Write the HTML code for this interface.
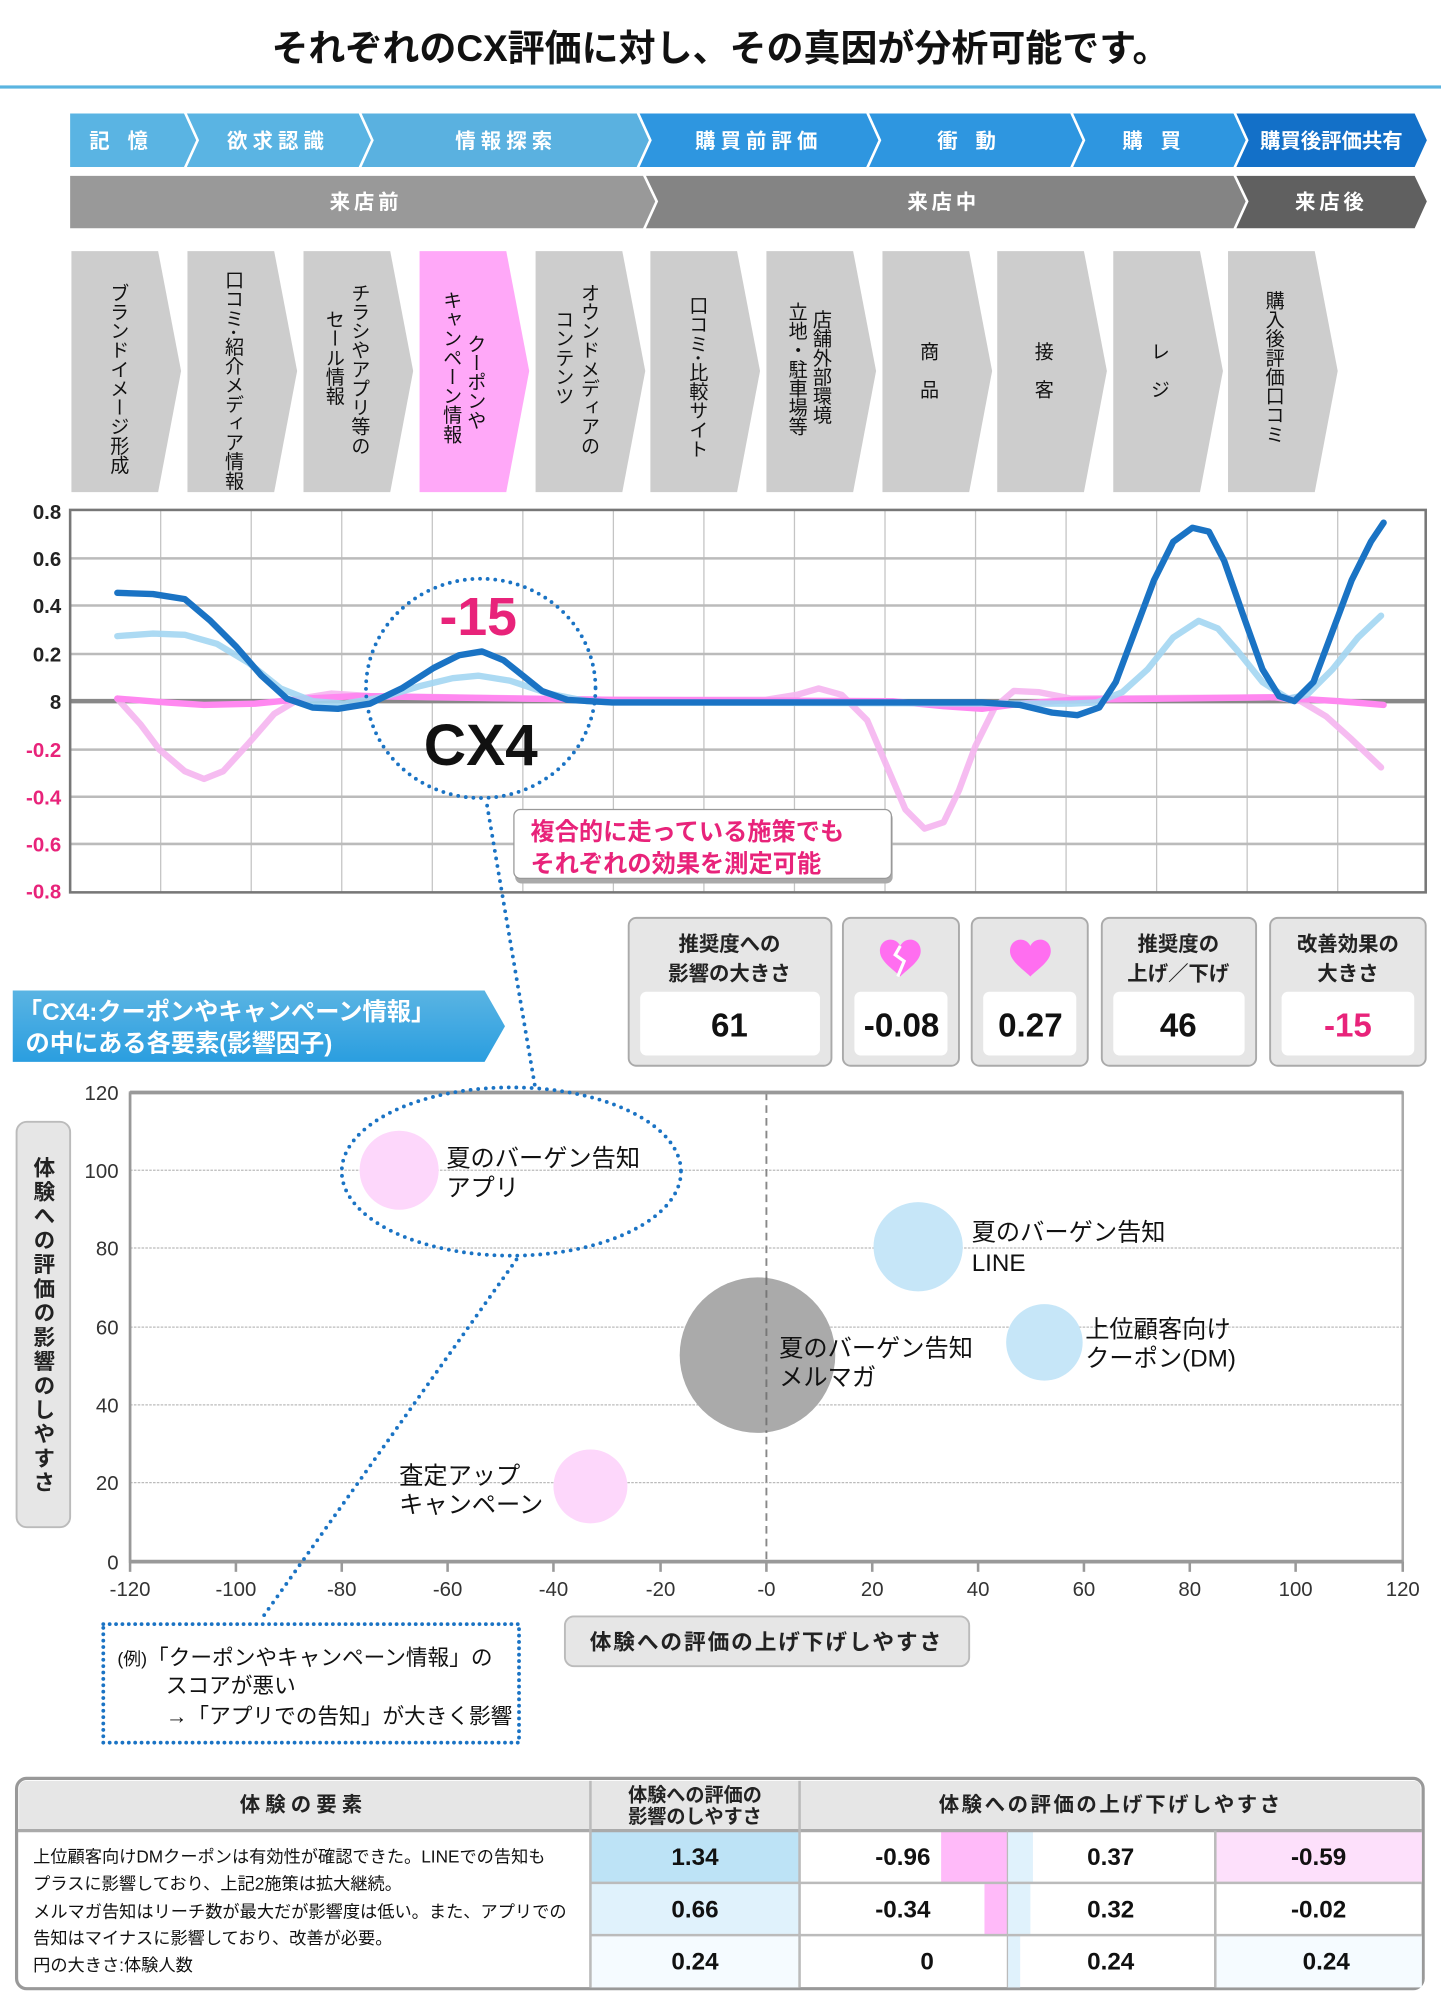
<!DOCTYPE html>
<html><head><meta charset="utf-8"><style>
html,body{margin:0;padding:0;background:#fff;}
svg{display:block;font-family:"Liberation Sans","Noto Sans CJK JP",sans-serif;}
.v{writing-mode:vertical-rl;font-size:15px;fill:#111;}
</style></head><body>
<svg width="1441" height="2004" viewBox="0 0 1130 1572" preserveAspectRatio="none" xmlns="http://www.w3.org/2000/svg">
<rect width="1130" height="1572" fill="#fff"/>
<text x="565" y="48" text-anchor="middle" font-size="29" font-weight="bold" fill="#111">それぞれのCX評価に対し、その真因が分析可能です。</text>
<rect x="0" y="67" width="1130" height="2.5" fill="#5ab4e0"/>

<!-- phase row 1 -->
<g stroke="#fff" stroke-width="2">
<polygon points="54,88 145,88 155,110 145,132 54,132" fill="#5ab4e3"/>
<polygon points="145,88 282,88 292,110 282,132 145,132 155,110" fill="#5ab4e3"/>
<polygon points="282,88 500,88 510,110 500,132 282,132 292,110" fill="#5ab1e0"/>
<polygon points="500,88 680,88 690,110 680,132 500,132 510,110" fill="#2e96e0"/>
<polygon points="680,88 840,88 850,110 840,132 680,132 690,110" fill="#2e96e0"/>
<polygon points="840,88 968,88 978,110 968,132 840,132 850,110" fill="#2e96e0"/>
<polygon points="968,88 1110,88 1120,110 1110,132 968,132 978,110" fill="#1370c8"/>
</g>
<g fill="#fff" font-size="16" font-weight="bold" text-anchor="middle">
<text x="100" y="116" letter-spacing="14">記憶</text>
<text x="218" y="116" letter-spacing="4">欲求認識</text>
<text x="397" y="116" letter-spacing="4">情報探索</text>
<text x="595" y="116" letter-spacing="4">購買前評価</text>
<text x="765" y="116" letter-spacing="14">衝動</text>
<text x="910" y="116" letter-spacing="14">購買</text>
<text x="1044" y="116">購買後評価共有</text>
</g>
<!-- phase row 2 -->
<g stroke="#fff" stroke-width="2">
<polygon points="54,137 505,137 515,158 505,180 54,180" fill="#999"/>
<polygon points="505,137 968,137 978,158 968,180 505,180 515,158" fill="#848484"/>
<polygon points="968,137 1110,137 1120,158 1110,180 968,180 978,158" fill="#606060"/>
</g>
<g fill="#fff" font-size="16" font-weight="bold" text-anchor="middle" letter-spacing="3">
<text x="287" y="164">来店前</text>
<text x="740" y="164">来店中</text>
<text x="1044" y="164">来店後</text>
</g>

<!-- touchpoint cards -->
<g fill="#cdcdcd">
<polygon points="56,197 124,197 142,291 124,386 56,386"/>
<polygon points="147,197 215,197 233,291 215,386 147,386"/>
<polygon points="238,197 306,197 324,291 306,386 238,386"/>
<polygon points="329,197 397,197 415,291 397,386 329,386" fill="#ffa8f8"/>
<polygon points="420,197 488,197 506,291 488,386 420,386"/>
<polygon points="510,197 578,197 596,291 578,386 510,386"/>
<polygon points="601,197 669,197 687,291 669,386 601,386"/>
<polygon points="692,197 760,197 778,291 760,386 692,386"/>
<polygon points="782,197 850,197 868,291 850,386 782,386"/>
<polygon points="873,197 941,197 959,291 941,386 873,386"/>
<polygon points="963,197 1031,197 1049,291 1031,386 963,386"/>
</g>
<g class="v">
<text class="v" x="92" y="222">ブランドイメージ形成</text>
<text class="v" x="182" y="212">口コミ･紹介メディア情報</text>
<text class="v" x="281" y="222">チラシやアプリ等の</text>
<text class="v" x="261" y="243">セール情報</text>
<text class="v" x="372" y="262">クーポンや</text>
<text class="v" x="353" y="228">キャンペーン情報</text>
<text class="v" x="461" y="222">オウンドメディアの</text>
<text class="v" x="441" y="243">コンテンツ</text>
<text class="v" x="546" y="232">口コミ･比較サイト</text>
<text class="v" x="643" y="243">店舗外部環境</text>
<text class="v" x="624" y="237">立地・駐車場等</text>
<text class="v" x="727" y="268">商　品</text>
<text class="v" x="817" y="268">接　客</text>
<text class="v" x="908" y="268">レ　ジ</text>
<text class="v" x="998" y="228">購入後評価口コミ</text>
</g>

<!-- line chart -->
<rect x="55" y="400" width="1063" height="300" fill="#fff"/>
<g stroke="#c4c4c4" stroke-width="1">
<line x1="126" y1="400" x2="126" y2="700"/><line x1="197" y1="400" x2="197" y2="700"/><line x1="268" y1="400" x2="268" y2="700"/><line x1="339" y1="400" x2="339" y2="700"/><line x1="410" y1="400" x2="410" y2="700"/><line x1="481" y1="400" x2="481" y2="700"/><line x1="552" y1="400" x2="552" y2="700"/><line x1="623" y1="400" x2="623" y2="700"/><line x1="694" y1="400" x2="694" y2="700"/><line x1="765" y1="400" x2="765" y2="700"/><line x1="836" y1="400" x2="836" y2="700"/><line x1="907" y1="400" x2="907" y2="700"/><line x1="978" y1="400" x2="978" y2="700"/><line x1="1049" y1="400" x2="1049" y2="700"/>
</g>
<g stroke="#bbb" stroke-width="2">
<line x1="55" y1="438" x2="1118" y2="438"/><line x1="55" y1="475" x2="1118" y2="475"/><line x1="55" y1="513" x2="1118" y2="513"/><line x1="55" y1="588" x2="1118" y2="588"/><line x1="55" y1="625" x2="1118" y2="625"/><line x1="55" y1="662" x2="1118" y2="662"/>
</g>
<line x1="55" y1="550" x2="1118" y2="550" stroke="#888" stroke-width="3.5"/>
<rect x="55" y="400" width="1063" height="300" fill="none" stroke="#777" stroke-width="2"/>
<g font-size="16" font-weight="bold" text-anchor="end">
<text x="48" y="407" fill="#222">0.8</text><text x="48" y="444" fill="#222">0.6</text><text x="48" y="481" fill="#222">0.4</text><text x="48" y="519" fill="#222">0.2</text><text x="48" y="556" fill="#222">8</text>
<text x="48" y="594" fill="#e8237a">-0.2</text><text x="48" y="631" fill="#e8237a">-0.4</text><text x="48" y="668" fill="#e8237a">-0.6</text><text x="48" y="705" fill="#e8237a">-0.8</text>
</g>
<g fill="none" stroke-linejoin="round" stroke-linecap="round">
<polyline stroke="#f5b5f0" stroke-width="5" opacity="0.9" points="92,548 110,568 125,588 145,605 160,611 175,605 195,583 215,560 235,548 260,544 290,546 480,549 600,549 625,545 642,540 660,545 680,565 695,600 710,635 725,650 740,645 752,620 765,585 780,555 795,542 815,543 840,548 1000,547 1020,550 1040,562 1060,580 1083,602"/>
<polyline stroke="#ff88f0" stroke-width="5" points="92,548 130,551 160,553 200,552 240,548 280,546 340,547 480,549 700,550 740,554 770,556 800,552 840,549 1000,547 1050,550 1085,553"/>
<polyline stroke="#a3d6f2" stroke-width="5" opacity="0.9" points="92,499 120,497 145,498 170,505 195,520 220,540 245,550 270,552 300,547 330,538 355,532 375,530 400,534 430,544 460,550 480,551 840,552 860,551 880,543 900,525 920,500 940,487 955,493 970,510 990,535 1010,548 1025,545 1045,525 1065,500 1083,483"/>
<polyline stroke="#1a73c4" stroke-width="5" points="92,465 120,466 145,470 165,487 185,507 205,530 225,548 245,555 265,556 290,552 315,540 340,524 360,514 378,511 395,518 410,530 425,542 445,549 480,551 700,551 770,551 800,553 825,559 845,561 862,555 875,535 890,495 905,455 920,425 935,414 948,417 960,440 975,483 990,525 1003,546 1015,550 1030,535 1045,495 1060,455 1075,425 1085,410"/>
</g>
<ellipse cx="377" cy="540" rx="90" ry="86" fill="none" stroke="#1a73c4" stroke-width="3" stroke-dasharray="0 6" stroke-linecap="round"/>
<text x="375" y="498" text-anchor="middle" font-size="42" font-weight="bold" fill="#e8237a">-15</text>
<text x="377" y="600" text-anchor="middle" font-size="46" font-weight="bold" fill="#111">CX4</text>
<line x1="382" y1="632" x2="420" y2="855" stroke="#1a73c4" stroke-width="3" stroke-dasharray="0 6" stroke-linecap="round"/>
<rect x="404" y="637" width="296" height="56" rx="5" fill="#aaa"/>
<rect x="403" y="635" width="296" height="54" rx="5" fill="#fff" stroke="#999" stroke-width="1"/>
<g font-size="19" font-weight="bold" fill="#e8237a"><text x="416" y="659">複合的に走っている施策でも</text><text x="416" y="684">それぞれの効果を測定可能</text></g>

<!-- metric boxes -->
<g fill="#e6e6e6" stroke="#aaa" stroke-width="1.5">
<rect x="493" y="720" width="159" height="116" rx="6"/>
<rect x="661" y="720" width="91" height="116" rx="6"/>
<rect x="762" y="720" width="91" height="116" rx="6"/>
<rect x="864" y="720" width="121" height="116" rx="6"/>
<rect x="996" y="720" width="122" height="116" rx="6"/>
</g>
<g fill="#fff">
<rect x="502" y="778" width="141" height="50" rx="5"/>
<rect x="670" y="778" width="73" height="50" rx="5"/>
<rect x="771" y="778" width="73" height="50" rx="5"/>
<rect x="873" y="778" width="103" height="50" rx="5"/>
<rect x="1005" y="778" width="104" height="50" rx="5"/>
</g>
<g font-size="16" font-weight="bold" fill="#222" text-anchor="middle">
<text x="572" y="746">推奨度への</text><text x="572" y="769">影響の大きさ</text>
<text x="924" y="746">推奨度の</text><text x="924" y="769">上げ／下げ</text>
<text x="1057" y="746">改善効果の</text><text x="1057" y="769">大きさ</text>
</g>
<g font-size="26" font-weight="bold" fill="#111" text-anchor="middle">
<text x="572" y="813">61</text><text x="707" y="813">-0.08</text><text x="808" y="813">0.27</text><text x="924" y="813">46</text><text x="1057" y="813" fill="#e8237a">-15</text>
</g>
<g transform="translate(706,748)"><path d="M0,-6 C-4,-14 -16,-12 -16,-2 C-16,6 -6,12 0,18 C6,12 16,6 16,-2 C16,-12 4,-14 0,-6Z" fill="#ff6ef0"/><polyline points="0,-6 -4,1 3,6 -2,18" fill="none" stroke="#fff" stroke-width="2.5"/></g>
<g transform="translate(808,748)"><path d="M0,-6 C-4,-14 -16,-12 -16,-2 C-16,6 -6,12 0,18 C6,12 16,6 16,-2 C16,-12 4,-14 0,-6Z" fill="#ff6ef0"/></g>

<!-- blue banner -->
<defs><linearGradient id="bg" x1="0" y1="0" x2="0" y2="1"><stop offset="0" stop-color="#5ab4e3"/><stop offset="1" stop-color="#2a9ee0"/></linearGradient></defs>
<polygon points="10,777 380,777 396,805 380,833 10,833" fill="url(#bg)"/>
<g font-size="19" font-weight="bold" fill="#fff"><text x="14" y="800">「CX4:クーポンやキャンペーン情報」</text><text x="20" y="825">の中にある各要素(影響因子)</text></g>

<!-- scatter -->
<g stroke="#bbb" stroke-width="1" stroke-dasharray="2 1">
<line x1="102" y1="918" x2="1100" y2="918"/><line x1="102" y1="979" x2="1100" y2="979"/><line x1="102" y1="1041" x2="1100" y2="1041"/><line x1="102" y1="1102" x2="1100" y2="1102"/><line x1="102" y1="1163" x2="1100" y2="1163"/>
</g>
<line x1="601" y1="857" x2="601" y2="1225" stroke="#888" stroke-width="1.5" stroke-dasharray="6 4"/>
<rect x="102" y="857" width="998" height="368" fill="none" stroke="#aaa" stroke-width="2"/>
<line x1="102" y1="857" x2="1100" y2="857" stroke="#999" stroke-width="3"/>
<line x1="102" y1="1225" x2="1100" y2="1225" stroke="#999" stroke-width="3"/>
<line x1="102" y1="857" x2="102" y2="1225" stroke="#999" stroke-width="2"/>
<g stroke="#999" stroke-width="2">
<line x1="185" y1="1225" x2="185" y2="1233"/><line x1="268" y1="1225" x2="268" y2="1233"/><line x1="351" y1="1225" x2="351" y2="1233"/><line x1="434" y1="1225" x2="434" y2="1233"/><line x1="518" y1="1225" x2="518" y2="1233"/><line x1="601" y1="1225" x2="601" y2="1233"/><line x1="684" y1="1225" x2="684" y2="1233"/><line x1="767" y1="1225" x2="767" y2="1233"/><line x1="850" y1="1225" x2="850" y2="1233"/><line x1="933" y1="1225" x2="933" y2="1233"/><line x1="1016" y1="1225" x2="1016" y2="1233"/><line x1="1100" y1="1225" x2="1100" y2="1233"/><line x1="102" y1="1225" x2="102" y2="1233"/>
</g>
<g font-size="16" fill="#333" text-anchor="end">
<text x="93" y="863">120</text><text x="93" y="924">100</text><text x="93" y="985">80</text><text x="93" y="1047">60</text><text x="93" y="1108">40</text><text x="93" y="1169">20</text><text x="93" y="1231">0</text>
</g>
<g font-size="16" fill="#333" text-anchor="middle">
<text x="102" y="1252">-120</text><text x="185" y="1252">-100</text><text x="268" y="1252">-80</text><text x="351" y="1252">-60</text><text x="434" y="1252">-40</text><text x="518" y="1252">-20</text><text x="601" y="1252">-0</text><text x="684" y="1252">20</text><text x="767" y="1252">40</text><text x="850" y="1252">60</text><text x="933" y="1252">80</text><text x="1016" y="1252">100</text><text x="1100" y="1252">120</text>
</g>
<circle cx="313" cy="918" r="31" fill="#fdd7fb"/>
<circle cx="720" cy="978" r="35" fill="#c6e6f8"/>
<circle cx="594" cy="1063" r="61" fill="#aaa"/>
<line x1="601" y1="1002" x2="601" y2="1124" stroke="#777" stroke-width="1.5" stroke-dasharray="6 4"/>
<circle cx="819" cy="1053" r="30" fill="#c6e6f8"/>
<circle cx="463" cy="1166" r="29" fill="#fdd7fb"/>
<g font-size="19" fill="#111">
<text x="350" y="915">夏のバーゲン告知</text><text x="350" y="938">アプリ</text>
<text x="762" y="973">夏のバーゲン告知</text><text x="762" y="997">LINE</text>
<text x="611" y="1064">夏のバーゲン告知</text><text x="611" y="1087">メルマガ</text>
<text x="851" y="1049">上位顧客向け</text><text x="851" y="1072">クーポン(DM)</text>
<text x="313" y="1164">査定アップ</text><text x="313" y="1187">キャンペーン</text>
</g>
<ellipse cx="401" cy="919" rx="133" ry="66" fill="none" stroke="#1a73c4" stroke-width="3" stroke-dasharray="0 6" stroke-linecap="round"/>
<line x1="405" y1="988" x2="205" y2="1270" stroke="#1a73c4" stroke-width="3" stroke-dasharray="0 6" stroke-linecap="round"/>
<rect x="13" y="880" width="42" height="318" rx="8" fill="#e6e6e6" stroke="#bbb" stroke-width="1.5"/>
<text x="34" y="907" style="writing-mode:vertical-rl" font-size="17" font-weight="bold" fill="#222" letter-spacing="2">体験への評価の影響のしやすさ</text>
<rect x="443" y="1268" width="317" height="39" rx="7" fill="#e6e6e6" stroke="#bbb" stroke-width="1.5"/>
<text x="601" y="1294" text-anchor="middle" font-size="17" font-weight="bold" fill="#222" letter-spacing="1.5">体験への評価の上げ下げしやすさ</text>
<rect x="81" y="1274" width="326" height="93" fill="none" stroke="#1a73c4" stroke-width="3" stroke-dasharray="0 5" stroke-linecap="round"/>
<g fill="#111" font-size="17"><text x="92" y="1306"><tspan font-size="14">(例)</tspan>「クーポンやキャンペーン情報」の</text><text x="130" y="1328">スコアが悪い</text><text x="130" y="1352">→「アプリでの告知」が大きく影響</text></g>

<!-- table -->
<rect x="13" y="1395" width="1103" height="165" rx="8" fill="#fff" stroke="#999" stroke-width="2.5"/>
<path d="M15,1435 L15,1403 Q15,1397 21,1397 L1108,1397 Q1114,1397 1114,1403 L1114,1435Z" fill="#e6e6e6"/>
<rect x="463" y="1436" width="164" height="41" fill="#bde3f6"/>
<rect x="463" y="1477" width="164" height="41" fill="#e0f2fc"/>
<rect x="463" y="1518" width="164" height="41" fill="#f5fbff"/>
<rect x="738" y="1436" width="52" height="41" fill="#ffbaf9"/>
<rect x="790" y="1436" width="20" height="41" fill="#e0f2fc"/>
<rect x="772" y="1477" width="18" height="41" fill="#ffbaf9"/>
<rect x="790" y="1477" width="18" height="41" fill="#e0f2fc"/>
<rect x="790" y="1518" width="10" height="41" fill="#e0f2fc"/>
<rect x="953" y="1436" width="162" height="41" fill="#fde0fb"/>
<rect x="953" y="1518" width="162" height="41" fill="#f5fbff"/>
<g stroke="#bbb" stroke-width="2">
<line x1="14" y1="1436" x2="1115" y2="1436" stroke="#aaa" stroke-width="2.5"/>
<line x1="463" y1="1397" x2="463" y2="1559"/><line x1="627" y1="1397" x2="627" y2="1559"/>
<line x1="790" y1="1436" x2="790" y2="1559" stroke-width="1"/><line x1="953" y1="1436" x2="953" y2="1559"/>
<line x1="463" y1="1477" x2="1115" y2="1477"/><line x1="463" y1="1518" x2="1115" y2="1518"/>
</g>
<g font-size="16" font-weight="bold" fill="#222" text-anchor="middle">
<text x="238" y="1421" letter-spacing="4">体験の要素</text>
<text x="545" y="1413" font-size="15">体験への評価の</text><text x="545" y="1430" font-size="15">影響のしやすさ</text>
<text x="871" y="1421" letter-spacing="2">体験への評価の上げ下げしやすさ</text>
</g>
<g font-size="13.5" fill="#111">
<text x="26" y="1461">上位顧客向けDMクーポンは有効性が確認できた。LINEでの告知も</text>
<text x="26" y="1482">プラスに影響しており、上記2施策は拡大継続。</text>
<text x="26" y="1504">メルマガ告知はリーチ数が最大だが影響度は低い。また、アプリでの</text>
<text x="26" y="1525">告知はマイナスに影響しており、改善が必要。</text>
<text x="26" y="1546">円の大きさ:体験人数</text>
</g>
<g font-size="19" font-weight="bold" fill="#111" text-anchor="middle">
<text x="545" y="1463">1.34</text><text x="545" y="1504">0.66</text><text x="545" y="1545">0.24</text>
<text x="708" y="1463">-0.96</text><text x="708" y="1504">-0.34</text><text x="727" y="1545">0</text>
<text x="871" y="1463">0.37</text><text x="871" y="1504">0.32</text><text x="871" y="1545">0.24</text>
<text x="1034" y="1463">-0.59</text><text x="1034" y="1504">-0.02</text><text x="1040" y="1545">0.24</text>
</g>
</svg>
</body></html>
